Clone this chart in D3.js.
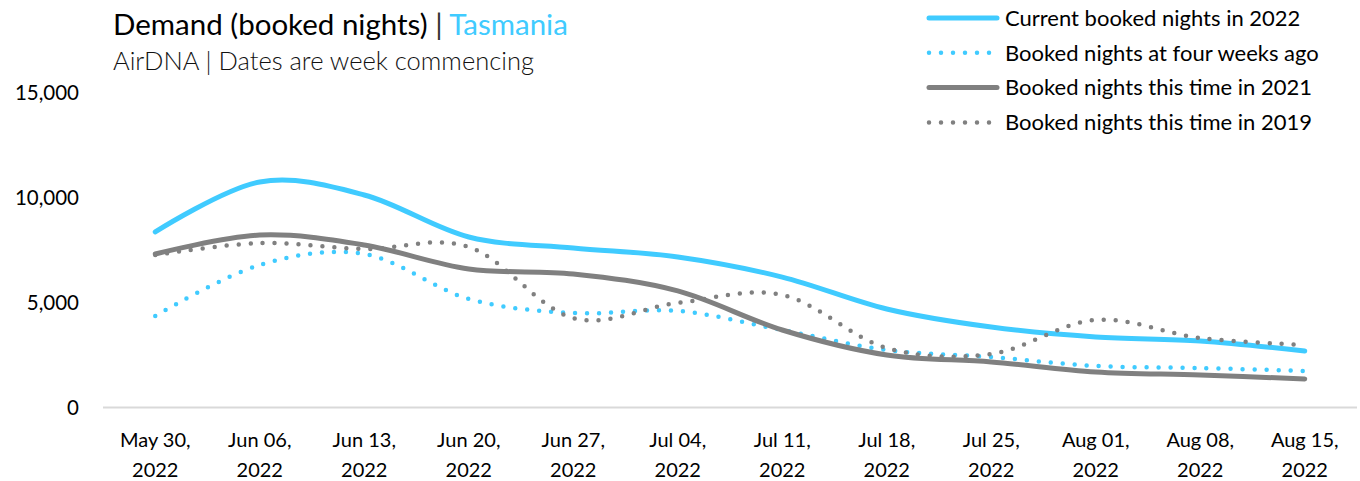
<!DOCTYPE html>
<html><head><meta charset="utf-8">
<script src="https://cdn.jsdelivr.net/npm/d3@7"></script>
<style>body{margin:0;background:#fff}svg{display:block;font-family:Lato,"Open Sans",sans-serif}</style>
</head><body><svg id="c" width="1360" height="481"></svg>
<script>
const categories = ["May 30, 2022","Jun 06, 2022","Jun 13, 2022","Jun 20, 2022","Jun 27, 2022","Jul 04, 2022","Jul 11, 2022","Jul 18, 2022","Jul 25, 2022","Aug 01, 2022","Aug 08, 2022","Aug 15, 2022"];
const current2022 = [8360,10740,10120,8120,7600,7170,6210,4690,3830,3360,3170,2690];
const fourWeeksAgo = [4360,6790,7310,5170,4500,4600,3690,2740,2400,1980,1880,1740];
const time2021 = [7310,8210,7740,6600,6360,5550,3690,2500,2170,1690,1550,1360];
const time2019 = [7260,7830,7550,7650,4260,4980,5360,2830,2550,4170,3310,2980];
const yTicks = [0,5000,10000,15000];
const seriesNames = ["Current booked nights in 2022","Booked nights at four weeks ago","Booked nights this time in 2021","Booked nights this time in 2019"];

const BLUE = "#40CBFF", GREY = "#808080";
const series = [
  {name: seriesNames[0], values: current2022, color: BLUE, dotted: false},
  {name: seriesNames[1], values: fourWeeksAgo, color: BLUE, dotted: true},
  {name: seriesNames[2], values: time2021, color: GREY, dotted: false},
  {name: seriesNames[3], values: time2019, color: GREY, dotted: true}
];

const svg = d3.select("#c");
const x = d3.scaleBand().domain(categories).range([103, 1357]);
const y = d3.scaleLinear().domain([0, 15000]).range([407.5, 92.5]);

// y axis labels
svg.append("g").selectAll("text").data(yTicks).join("text")
  .attr("x", 79).attr("y", d => y(d)).attr("dy", "0.35em")
  .attr("text-anchor", "end").attr("font-size", 20.5).attr("fill", "#000")
  .text(d => d3.format(",")(d));

// x axis line
svg.append("line").attr("x1", 103).attr("x2", 1357).attr("y1", y(0)).attr("y2", y(0))
  .attr("stroke", "#d9d9d9").attr("stroke-width", 2);

// x labels
const xl = svg.append("g").selectAll("text").data(categories).join("text")
  .attr("text-anchor", "middle").attr("font-size", 20).attr("fill", "#000");
xl.each(function(d){
  const parts = d.split(", ");
  const t = d3.select(this);
  const cx = x(d) + x.bandwidth()/2;
  t.append("tspan").attr("x", cx).attr("y", 447).text(parts[0] + ",");
  t.append("tspan").attr("x", cx).attr("y", 477).text(parts[1]);
});

// lines
const line = d3.line()
  .x((d, i) => x(categories[i]) + x.bandwidth()/2)
  .y(d => y(d))
  .curve(d3.curveCatmullRom.alpha(0));

series.forEach(s => {
  svg.append("path").datum(s.values)
    .attr("d", line).attr("fill", "none")
    .attr("stroke", s.color)
    .attr("stroke-width", s.dotted ? 4.5 : 5)
    .attr("stroke-linecap", "round")
    .attr("stroke-dasharray", s.dotted ? "0 12" : null);
});

// title
const title = svg.append("text").attr("x", 113).attr("y", 35).attr("font-size", 29.5);
title.append("tspan").attr("fill", "#000").text("Demand (booked nights) ");
title.append("tspan").attr("fill", "#333").text("| ");
title.append("tspan").attr("fill", BLUE).text("Tasmania");
svg.append("text").attr("x", 113).attr("y", 70).attr("font-size", 25.5).attr("font-weight", 300)
  .attr("fill", "#111").text("AirDNA | Dates are week commencing");

// legend
const lg = svg.append("g").selectAll("g").data(series).join("g")
  .attr("transform", (d, i) => `translate(0,${18 + i * 34.8})`);
lg.append("line").attr("x1", 929).attr("x2", 997).attr("y1", 0).attr("y2", 0)
  .attr("stroke", d => d.color).attr("stroke-width", d => d.dotted ? 4.5 : 5)
  .attr("stroke-linecap", "round").attr("stroke-dasharray", d => d.dotted ? "0 12" : null);
lg.append("text").attr("x", 1005).attr("y", 0).attr("dy", "0.35em")
  .attr("font-size", 22).attr("fill", "#000").text(d => d.name);
</script></body></html>
